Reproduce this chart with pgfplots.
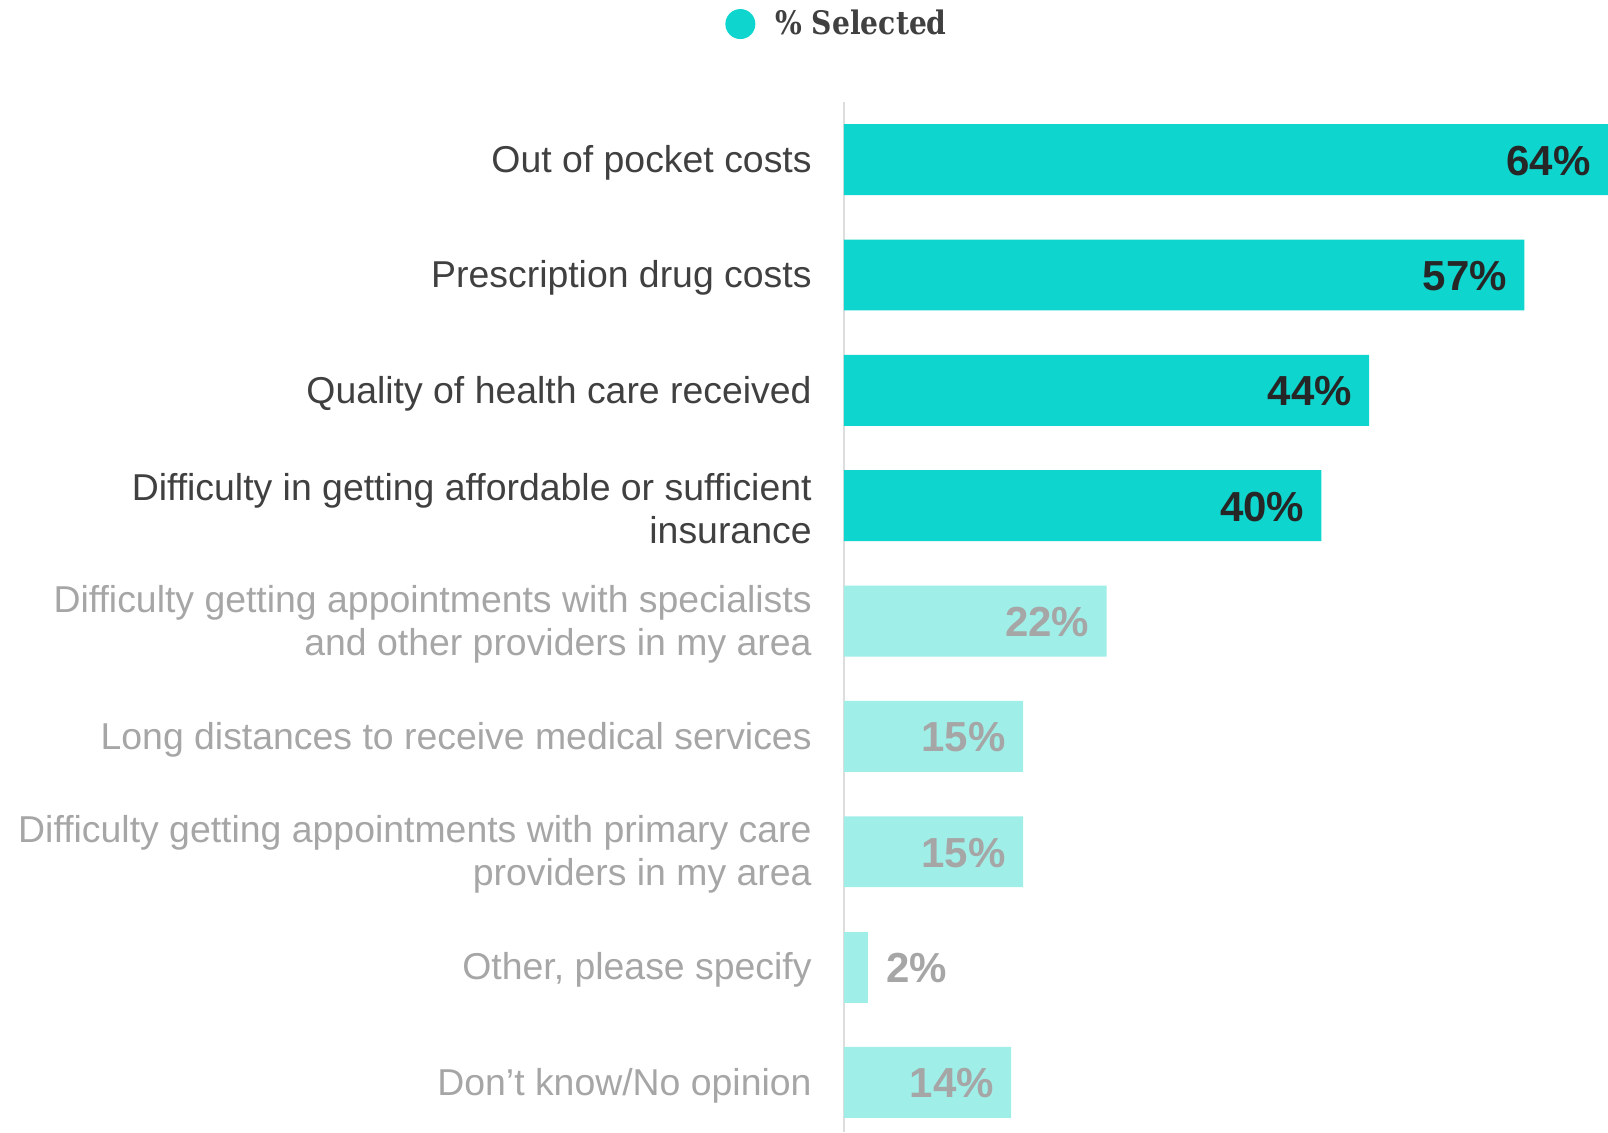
\documentclass[border=0pt]{standalone}
\usepackage{fontspec}
\setmainfont{Liberation Sans}
\newfontfamily\legfont[FakeStretch=0.87]{DejaVu Serif}
\usepackage{pgfplots}
\pgfplotsset{compat=1.18}
\definecolor{tealA}{HTML}{0ED6CE}
\definecolor{tealB}{HTML}{A0EEE8}
\definecolor{lab1}{HTML}{404040}
\definecolor{lab2}{HTML}{A6A6A6}
\definecolor{val1}{HTML}{262626}
\definecolor{axl}{HTML}{DDDDDD}
\begin{document}
\begin{tikzpicture}
\path[use as bounding box] (0,0) rectangle (804pt,566pt);
\begin{axis}[
  at={(422pt,0pt)}, anchor=south west,
  scale only axis, width=382pt, height=515pt,
  xmin=0, xmax=64, ymin=-0.5, ymax=8.43, y dir=reverse,
  xbar, bar width=0.615,
  axis x line=none, axis y line*=left,
  y axis line style={axl, line width=1pt, -},
  ytick={0,...,8}, ytick style={draw=none}, major tick length=0pt,
  yticklabels={
    {\textcolor{lab1}{Out of pocket costs}},
    {\textcolor{lab1}{Prescription drug costs}},
    {\textcolor{lab1}{Quality of health care received}},
    {\textcolor{lab1}{Difficulty in getting affordable or sufficient}\\\textcolor{lab1}{insurance}},
    {\textcolor{lab2}{Difficulty getting appointments with specialists}\\\textcolor{lab2}{and other providers in my area}},
    {\textcolor{lab2}{Long distances to receive medical services}},
    {\textcolor{lab2}{Difficulty getting appointments with primary care}\\\textcolor{lab2}{providers in my area}},
    {\textcolor{lab2}{Other, please specify}},
    {\textcolor{lab2}{Don’t know/No opinion}}},
  yticklabel style={font=\fontsize{18.7}{21.5}\selectfont, align=right, anchor=east, inner sep=0pt, xshift=-16pt, yshift=-1.5pt},
  /pgf/number format/assume math mode=true,
  nodes near coords={\pgfmathprintnumber{\pgfplotspointmeta}\%},
  clip=false,
  legend style={draw=none, fill=none, inner sep=0pt, at={(-0.1558,1.0757)}, anchor=west,
    column sep=10pt, nodes={inner sep=0pt, font=\legfont\bfseries\fontsize{16.2}{16.2}\selectfont, text=lab1}},
]
\addplot[fill=tealA, draw=none, bar shift=0pt,
  legend image code/.code={\fill[tealA] (7.5pt,0pt) circle (7.5pt);},
  nodes near coords style={anchor=east, inner sep=0pt, xshift=-8.5pt, yshift=-0.5pt, font=\fontsize{21}{21}\selectfont\bfseries, text=val1}]
  coordinates {(64,0) (57,1) (44,2) (40,3)};
\addlegendentry{\% Selected}
\addplot[fill=tealB, draw=none, bar shift=0pt, forget plot,
  nodes near coords style={anchor=east, inner sep=0pt, xshift=-8.5pt, yshift=-0.5pt, font=\fontsize{21}{21}\selectfont\bfseries, text=lab2}]
  coordinates {(22,4) (15,5) (15,6) (14,8)};
\addplot[fill=tealB, draw=none, bar shift=0pt, forget plot,
  nodes near coords style={anchor=west, inner sep=0pt, xshift=9pt, yshift=-0.5pt, font=\fontsize{21}{21}\selectfont\bfseries, text=lab2}]
  coordinates {(2,7)};
\end{axis}
\end{tikzpicture}
\end{document}
